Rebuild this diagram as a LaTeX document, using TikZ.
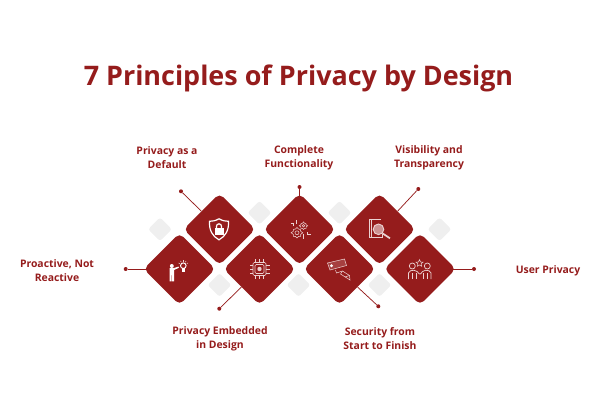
\documentclass[tikz,border=0pt]{standalone}
\usepackage{fontspec}
\setmainfont{Open Sans}
\usetikzlibrary{positioning,shapes.geometric,shapes.symbols}
\definecolor{brickred}{HTML}{951C1C}
\definecolor{palegrey}{HTML}{EFEFEF}
\definecolor{iconpink}{HTML}{EBD2D2}
\tikzset{
  bigcard/.style={diamond, aspect=1, fill=brickred, rounded corners=4pt, inner sep=0pt, minimum size=54pt},
  smallcard/.style={diamond, aspect=1, fill=palegrey, rounded corners=2pt, inner sep=0pt, minimum size=18pt},
  enddot/.style={circle, fill=brickred, inner sep=0pt, minimum size=3pt},
  leader/.style={draw=brickred, line width=0.55pt},
  caption/.style={font=\bfseries\fontsize{7.8}{10.6}\selectfont, text=brickred, align=center, inner sep=0pt},
  iconline/.style={draw=iconpink, line width=0.4pt},
  iconwhite/.style={draw=white, line width=0.7pt}
}
\begin{document}
\begin{tikzpicture}[x=0.75pt, y=-0.75pt]
  \useasboundingbox (0,0) rectangle (600,400);

  \node[font=\bfseries\fontsize{20.2}{24}\selectfont, text=brickred, inner sep=0pt] (title) at (298.5,78) {7 Principles of Privacy by Design};

  % pale diamonds
  \node[smallcard] (pale1) at (160,229.3) {};
  \node[smallcard] (pale2) at (259.5,212.7) {};
  \node[smallcard] (pale3) at (339.5,212.7) {};
  \node[smallcard] (pale4) at (439.5,229.3) {};
  \node[smallcard] (pale5) at (219.5,285) {};
  \node[smallcard] (pale6) at (298.5,285) {};
  \node[smallcard] (pale7) at (379.5,285) {};

  % red diamonds
  \node[bigcard] (proactive) at (179.5,269) {};
  \node[bigcard] (default) at (219.5,229.3) {};
  \node[bigcard] (embedded) at (259.5,269) {};
  \node[bigcard] (functional) at (299.5,229.3) {};
  \node[bigcard] (security) at (339.5,269) {};
  \node[bigcard] (visible) at (379.5,229.3) {};
  \node[bigcard] (user) at (420,269) {};

  % end dots
  \node[enddot] (dotproactive) at (125.7,269) {};
  \node[enddot] (dotdefault) at (181,191.3) {};
  \node[enddot] (dotembedded) at (219.3,308.7) {};
  \node[enddot] (dotfunctional) at (299.5,187) {};
  \node[enddot] (dotsecurity) at (378.3,306.3) {};
  \node[enddot] (dotvisible) at (418.3,189) {};
  \node[enddot] (dotuser) at (474,269) {};

  \draw[leader] (dotproactive) -- ([xshift=4pt]proactive.west);
  \draw[leader] (dotdefault) -- (default.north west);
  \draw[leader] (dotembedded) -- (embedded.south west);
  \draw[leader] (dotfunctional) -- ([yshift=-4pt]functional.north);
  \draw[leader] (dotsecurity) -- (security.south east);
  \draw[leader] (dotvisible) -- (visible.north east);
  \draw[leader] (dotuser) -- ([xshift=-4pt]user.east);

  % labels
  \node[caption] (capproactive) at (57,271) {Proactive, Not\\Reactive};
  \node[caption] (capdefault) at (167,158) {Privacy as a\\Default};
  \node[caption] (capembedded) at (220,338.5) {Privacy Embedded\\in Design};
  \node[caption] (capfunctional) at (299,158) {Complete\\Functionality};
  \node[caption] (capsecurity) at (380,338.5) {Security from\\Start to Finish};
  \node[caption] (capvisible) at (429,158) {Visibility and\\Transparency};
  \node[caption] (capuser) at (548,270.5) {User Privacy};

  % person with bulb
  \begin{scope}[shift={(proactive)}]
    \fill[white] (-7.7,-3) circle (2);
    \fill[white] (-10,-1) -- (-5.5,-1) -- (-1,-2.4) -- (-0.6,-1.2) -- (-5.5,1) -- (-5.5,12.3) -- (-7.3,12.3) -- (-7.3,6) -- (-8,6) -- (-8,12.3) -- (-10,12.3) -- cycle;
    \draw[iconwhite] (3.8,-3.3) circle (2.8);
    \fill[white] (2.6,-1) rectangle (5,2.5);
    \foreach \ang in {-150,-120,-90,-60,-30}
      \draw[iconline] (3.8,-3.3) ++(\ang:4) -- ++(\ang:1.5);
  \end{scope}

  % shield with lock
  \begin{scope}[shift={(default)}]
    \draw[iconwhite, line width=0.9pt] (-0.5,-10.5) .. controls (-4,-8.5) and (-7,-8) .. (-10,-8) .. controls (-10.5,1) and (-7,7) .. (-0.5,10.5) .. controls (6,7) and (9.5,1) .. (9,-8) .. controls (6,-8) and (3,-8.5) .. (-0.5,-10.5) -- cycle;
    \fill[white] (-5,-1) rectangle (4,5.5);
    \draw[iconwhite, line width=0.9pt] (-3,-1) -- (-3,-3) arc (180:360:2.5) -- (2,-1);
  \end{scope}

  % chip
  \begin{scope}[shift={(embedded)}]
    \draw[iconline, rounded corners=1pt] (-6.5,-6.5) rectangle (6.5,6.5);
    \draw[iconline, rounded corners=1pt] (-4.5,-4.5) rectangle (4.5,4.5);
    \fill[iconpink] (0,0) circle (2.2);
    \foreach \pos in {-4,0,4} {
      \draw[iconline] (\pos,-6.5) -- (\pos,-10);
      \draw[iconline] (\pos,6.5) -- (\pos,10);
      \draw[iconline] (-6.5,\pos) -- (-10,\pos);
      \draw[iconline] (6.5,\pos) -- (10,\pos);
    }
  \end{scope}

  % gears
  \begin{scope}[shift={(functional)}]
    \node[starburst, starburst points=8, starburst point height=1.5pt, iconline, inner sep=0pt, minimum size=9pt] (gearbig) at (-2.5,3.5) {};
    \node[starburst, starburst points=8, starburst point height=1.2pt, iconline, inner sep=0pt, minimum size=6.5pt] (gearsmall) at (4,-3.5) {};
    \draw[iconline] (-2.5,3.5) circle (2);
    \draw[iconline] (4,-3.5) circle (1.3);
    \draw[iconline] (-9,-6) -- (-6,-6) -- (-6,-3);
    \draw[iconline] (-3,-9) -- (-3,-5);
    \draw[iconline] (4,5) -- (4,10);
    \draw[iconline] (8,3) -- (8,5) -- (11,5);
  \end{scope}

  % camera
  \begin{scope}[shift={(security)}]
    \draw[iconline, fill=iconpink!20!brickred] (-12,-6) -- (5,-10) -- (7,-3.5) -- (-9.5,1) -- cycle;
    \fill[white] (-8,-3.3) circle (1.6);
    \draw[iconline] (-4,1) -- (-3,4) -- (3,2) -- (10,6.5) -- (10.5,11) -- (1,5);
    \draw[iconline] (3,2) -- (1,5);
    \draw[iconline] (10,6.5) -- (5.5,8);
  \end{scope}

  % magnifier on document
  \begin{scope}[shift={(visible)}]
    \draw[iconline, line width=0.6pt] (1.5,-10) -- (-10.5,-10) -- (-10.5,8) -- (3,8) -- (3,5);
    \draw[iconline] (-8.5,-10) -- (-8.5,8);
    \draw[iconline, fill=iconpink!65!brickred, line width=0.7pt] (-1,0) circle (5.3);
    \draw[draw=iconpink, line width=1.3pt] (3,4) -- (10.5,9);
  \end{scope}

  % two people and a star
  \begin{scope}[shift={(user)}]
    \node[star, star points=5, star point ratio=2.2, iconline, inner sep=0pt, minimum size=5.5pt] (userstar) at (-0.5,-5.7) {};
    \draw[iconline, line width=0.55pt] (-7.7,-3) circle (3);
    \draw[iconline, line width=0.55pt] (7.3,-3) circle (3);
    \draw[iconline, line width=0.55pt, rounded corners=1.5pt] (-11.5,10) -- (-11.5,2) -- (-4,1) -- (0,6) -- (3.5,1) -- (11,2) -- (11,10);
    \draw[iconline] (-7.5,10) -- (-7.5,4) (7,10) -- (7,4);
    \draw[iconline] (-4,4) -- (-4,10) (3.5,4) -- (3.5,10);
  \end{scope}
\end{tikzpicture}
\end{document}
